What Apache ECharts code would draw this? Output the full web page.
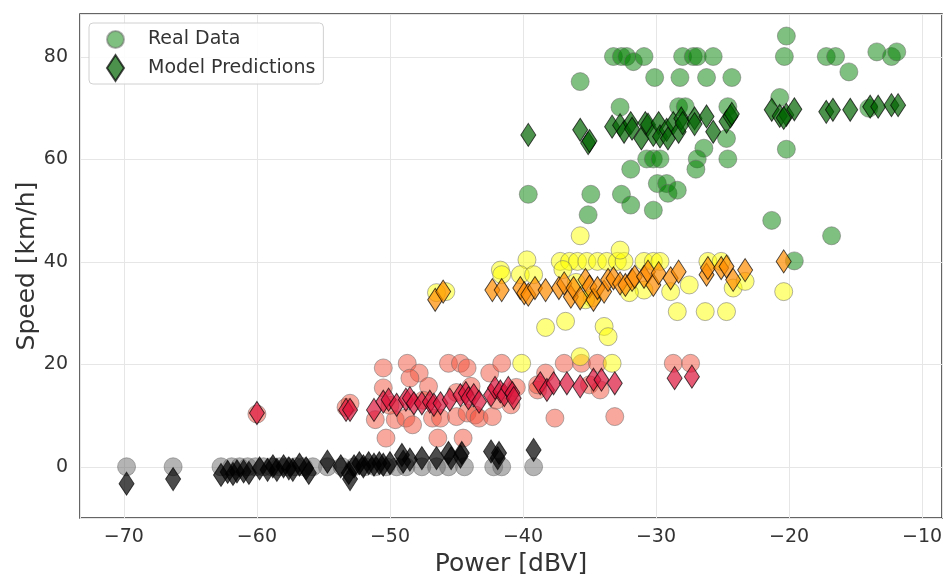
<!DOCTYPE html>
<html style="height: 100%">
<head>
    <title>Speed vs Power</title>
    <meta charset="utf-8">
</head>
<body style="height: 100%; margin: 0; background: #fff">
<div id="container" style="height: 576px; width: 943px"></div>
<script src="https://cdn.jsdelivr.net/npm/echarts/dist/echarts.min.js"></script>
<script type="text/javascript">
    // measured data, [power dBV, speed km/h]
    var realIdle = [[-69.8, 0], [-66.3, 0], [-62.7, 0], [-61.9, 0], [-61.3, 0], [-60.7, 0], [-60.1, 0], [-59.5, 0],
        [-58.9, 0], [-58.3, 0], [-57.7, 0], [-57.1, 0], [-56.5, 0], [-55.8, 0], [-54.7, 0], [-53.6, 0], [-52.7, 0],
        [-51.9, 0], [-51.1, 0], [-50.3, 0], [-49.5, 0], [-48.8, 0], [-47.6, 0], [-46.5, 0], [-45.6, 0], [-44.4, 0],
        [-42.2, 0], [-41.6, 0], [-39.2, 0]];
    var realSlow = [[-60.0, 10.3], [-53.3, 11.6], [-53.0, 12.4], [-50.5, 19.3], [-48.7, 20.2], [-47.8, 18.3],
        [-48.5, 17.3], [-45.6, 20.2], [-44.7, 20.2], [-44.2, 19.3], [-42.5, 18.3], [-41.6, 20.2], [-38.3, 18.3],
        [-36.9, 20.2], [-50.5, 15.4], [-47.1, 15.7], [-43.9, 15.7], [-38.9, 15.0], [-38.9, 16.0], [-51.1, 9.2],
        [-49.6, 9.2], [-48.8, 9.5], [-48.3, 8.2], [-46.8, 9.5], [-46.2, 9.5], [-45.0, 9.8], [-44.2, 10.5],
        [-43.6, 10.1], [-43.3, 9.5], [-42.3, 9.8], [-40.9, 12.1], [-37.6, 9.5], [-50.3, 5.6], [-46.4, 5.6],
        [-44.5, 5.6], [-28.7, 20.2], [-27.4, 20.2], [-35.6, 20.2], [-34.4, 20.2], [-33.1, 9.8], [-50.0, 12.0],
        [-47.5, 13.0], [-45.0, 14.5], [-42.0, 13.0], [-40.5, 15.5], [-35.0, 16.0], [-34.2, 15.0]];
    var realMedium = [[-46.5, 34.0], [-45.8, 34.2], [-41.7, 38.4], [-41.6, 37.5], [-39.7, 40.4], [-40.2, 37.5],
        [-39.2, 37.5], [-37.2, 40.1], [-36.5, 40.1], [-35.9, 40.1], [-35.2, 40.1], [-34.4, 40.1], [-33.7, 40.1],
        [-32.9, 40.1], [-32.4, 40.1], [-32.7, 42.3], [-30.9, 40.1], [-30.2, 40.1], [-29.7, 40.1], [-26.1, 40.1],
        [-25.1, 40.1], [-35.7, 45.1], [-30.9, 34.5], [-28.9, 34.2], [-24.2, 34.9], [-23.3, 36.2], [-20.4, 34.2],
        [-28.4, 30.3], [-26.3, 30.3], [-24.7, 30.3], [-38.3, 27.2], [-36.8, 28.4], [-33.9, 27.4], [-33.6, 25.4],
        [-40.1, 20.2], [-35.7, 21.5], [-33.3, 20.2], [-37.0, 38.5], [-36.0, 36.0], [-32.0, 34.0], [-34.8, 33.0],
        [-27.5, 35.5], [-35.3, 32.6]];
    var realFast = [[-20.2, 84.1], [-20.35, 80.1], [-17.2, 80.1], [-16.5, 80.1], [-15.5, 77.1], [-13.4, 81.0],
        [-12.3, 80.1], [-11.9, 81.0], [-20.7, 72.1], [-20.2, 62.0], [-21.3, 48.1], [-16.8, 45.1], [-19.6, 40.2],
        [-14.0, 70.0], [-33.2, 80.1], [-32.6, 80.1], [-32.2, 80.1], [-31.7, 79.1], [-30.9, 80.1], [-28.0, 80.1],
        [-27.2, 80.1], [-26.9, 80.1], [-25.7, 80.1], [-35.7, 75.2], [-30.1, 76.0], [-28.2, 76.0], [-26.2, 76.0],
        [-24.3, 76.0], [-32.7, 70.2], [-28.3, 70.3], [-27.8, 70.3], [-24.6, 70.3], [-24.7, 64.1], [-24.6, 60.1],
        [-26.4, 62.2], [-26.9, 60.1], [-27.0, 58.1], [-30.7, 60.1], [-30.2, 60.1], [-29.7, 60.1], [-31.9, 58.1],
        [-29.9, 55.3], [-29.2, 55.3], [-29.1, 53.4], [-28.4, 54.0], [-32.6, 53.2], [-31.9, 51.1], [-30.2, 50.1],
        [-34.9, 53.2], [-35.1, 49.2], [-39.6, 53.2]];

    // model output
    var predIdle = [[-69.8, -3.3], [-66.3, -2.4], [-62.7, -1.6], [-62.2, -1.0], [-61.8, -1.4], [-61.5, -0.9],
        [-61.0, -0.9], [-60.6, -1.2], [-59.8, -0.3], [-59.2, -0.6], [-58.8, 0.1], [-58.5, -0.6], [-58.0, 0.1],
        [-57.6, -0.3], [-57.3, -0.6], [-56.8, 0.4], [-56.3, -0.3], [-56.1, -1.2], [-54.7, 1.0], [-53.7, 0.1],
        [-53.1, -1.2], [-53.0, -2.4], [-52.7, 0.1], [-52.3, 0.7], [-52.0, 0.1], [-51.6, 0.7], [-51.2, 0.4],
        [-50.8, 0.7], [-50.5, 0.4], [-50.0, 0.7], [-49.1, 2.3], [-49.0, 1.0], [-48.5, 1.4], [-47.6, 1.7],
        [-46.5, 1.7], [-45.6, 2.7], [-45.4, 1.7], [-44.7, 2.0], [-44.6, 2.7], [-42.4, 3.0], [-41.8, 2.7],
        [-41.9, 1.7], [-39.2, 3.3]];
    var predSlow = [[-60.0, 10.5], [-53.3, 11.1], [-53.0, 11.1], [-51.2, 11.1], [-50.5, 12.7], [-50.1, 13.1],
        [-49.5, 12.1], [-48.8, 13.1], [-48.5, 13.4], [-48.2, 12.4], [-47.6, 12.4], [-47.0, 12.7], [-46.7, 12.1],
        [-46.2, 12.4], [-45.5, 13.1], [-44.7, 14.0], [-44.3, 14.4], [-44.1, 13.4], [-43.7, 14.0], [-43.3, 12.7],
        [-42.4, 14.0], [-42.1, 15.4], [-41.7, 14.7], [-41.4, 14.0], [-41.1, 15.4], [-40.8, 14.4], [-40.7, 13.4],
        [-38.7, 16.3], [-38.2, 15.0], [-37.7, 16.3], [-36.7, 16.3], [-35.7, 15.7], [-34.7, 17.0], [-34.1, 17.0],
        [-33.1, 16.3], [-28.6, 17.3], [-27.3, 17.6]];
    var predMedium = [[-46.6, 32.6], [-46.0, 34.2], [-42.3, 34.5], [-41.6, 34.5], [-40.2, 34.9], [-39.9, 33.9],
        [-39.6, 33.6], [-39.1, 34.9], [-38.3, 34.5], [-37.3, 34.9], [-36.9, 35.8], [-36.4, 33.2], [-36.2, 34.9],
        [-35.7, 32.9], [-35.3, 36.5], [-35.0, 35.2], [-34.7, 32.6], [-34.4, 34.9], [-33.9, 34.2], [-33.6, 36.5],
        [-33.2, 36.8], [-32.7, 35.8], [-32.3, 35.5], [-31.8, 36.5], [-31.6, 37.1], [-30.9, 37.1], [-30.6, 38.1],
        [-30.2, 35.5], [-29.8, 37.8], [-28.9, 36.8], [-28.3, 38.1], [-26.2, 37.5], [-26.1, 38.8], [-25.1, 38.8],
        [-24.7, 39.1], [-24.2, 36.5], [-23.3, 38.4], [-20.4, 40.1]];
    var predFast = [[-39.6, 64.8], [-35.7, 65.8], [-35.1, 63.2], [-35.0, 63.6], [-33.3, 66.4], [-32.7, 66.7],
        [-32.4, 65.4], [-31.9, 67.1], [-31.8, 66.0], [-31.1, 64.1], [-30.8, 67.1], [-30.6, 66.8], [-30.2, 64.8],
        [-29.8, 67.1], [-29.7, 64.5], [-29.2, 65.8], [-29.1, 64.1], [-28.7, 67.1], [-28.3, 65.4], [-28.1, 68.0],
        [-28.0, 67.1], [-27.1, 68.0], [-27.1, 66.9], [-26.2, 68.4], [-25.7, 65.4], [-24.7, 67.4], [-24.4, 68.4],
        [-24.3, 68.9], [-21.3, 69.7], [-20.7, 68.5], [-20.2, 68.7], [-19.6, 69.8], [-20.4, 68.1], [-17.2, 69.3],
        [-16.7, 69.7], [-15.4, 69.7], [-13.9, 70.3], [-13.3, 70.3], [-12.3, 70.6], [-11.8, 70.6]];

    var font = 'DejaVu Sans';
    var textColor = '#333';

    function minus(v) {
        return String(v).replace('-', '\u2212');
    }

    function realSeries(name, data, color) {
        return {
            name: name, type: 'scatter', data: data, symbol: 'circle', symbolSize: 18,
            itemStyle: {color: color, opacity: 0.5, borderColor: '#666', borderWidth: 1},
            emphasis: {disabled: true}
        };
    }

    function predSeries(name, data, color) {
        return {
            name: name, type: 'scatter', data: data, symbol: 'diamond', symbolSize: [15, 23], z: 3,
            itemStyle: {color: color, opacity: 0.7, borderColor: '#000', borderWidth: 1},
            emphasis: {disabled: true}
        };
    }

    var dom = document.getElementById('container');
    var myChart = echarts.init(dom, null, {renderer: 'canvas'});

    myChart.setOption({
        animation: false,
        textStyle: {fontFamily: font},
        grid: {
            left: 80, right: 1, top: 14, bottom: 58, containLabel: false, outerBoundsMode: 'none',
            show: true, borderColor: '#333', borderWidth: 1.5
        },
        legend: {
            orient: 'vertical', left: 89, top: 23,
            padding: [7, 8, 2, 17], itemGap: 5, itemWidth: 17, itemHeight: 26,
            borderColor: '#d0d0d0', borderWidth: 1, borderRadius: 4, backgroundColor: 'rgba(255,255,255,0.85)',
            textStyle: {fontFamily: font, fontSize: 19, color: textColor, padding: [0, 0, 0, 19]},
            data: ['Real Data', 'Model Predictions']
        },
        xAxis: {
            type: 'value', min: -73.3, max: -8.5,
            name: 'Power [dBV]', nameLocation: 'middle', nameGap: 34, nameMoveOverlap: false,
            nameTextStyle: {fontFamily: font, fontSize: 25, color: textColor},
            axisLine: {show: false}, axisTick: {show: false},
            axisLabel: {
                fontSize: 19, color: textColor, margin: 10,
                formatter: function (v) { return v % 10 === 0 ? minus(v) : ''; }
            },
            splitLine: {lineStyle: {color: '#e6e6e6', width: 1}}
        },
        yAxis: {
            type: 'value', min: -10, max: 88.4,
            name: 'Speed [km/h]', nameLocation: 'middle', nameGap: 40, nameMoveOverlap: false,
            nameTextStyle: {fontFamily: font, fontSize: 25, color: textColor},
            axisLine: {show: false}, axisTick: {show: false},
            axisLabel: {
                fontSize: 19, color: textColor, margin: 12,
                formatter: function (v) { return v % 20 === 0 ? minus(v) : ''; }
            },
            splitLine: {lineStyle: {color: '#e6e6e6', width: 1}}
        },
        series: [
            realSeries('Real Data', realFast, '#008000'),
            realSeries('Real Data (idle)', realIdle, '#696969'),
            realSeries('Real Data (slow)', realSlow, '#f4523c'),
            realSeries('Real Data (medium)', realMedium, '#ffff00'),
            predSeries('Model Predictions', predFast, '#006400'),
            predSeries('Model Predictions (idle)', predIdle, '#000000'),
            predSeries('Model Predictions (slow)', predSlow, '#dc143c'),
            predSeries('Model Predictions (medium)', predMedium, '#ff8c00')
        ]
    });
</script>
</body>
</html>
